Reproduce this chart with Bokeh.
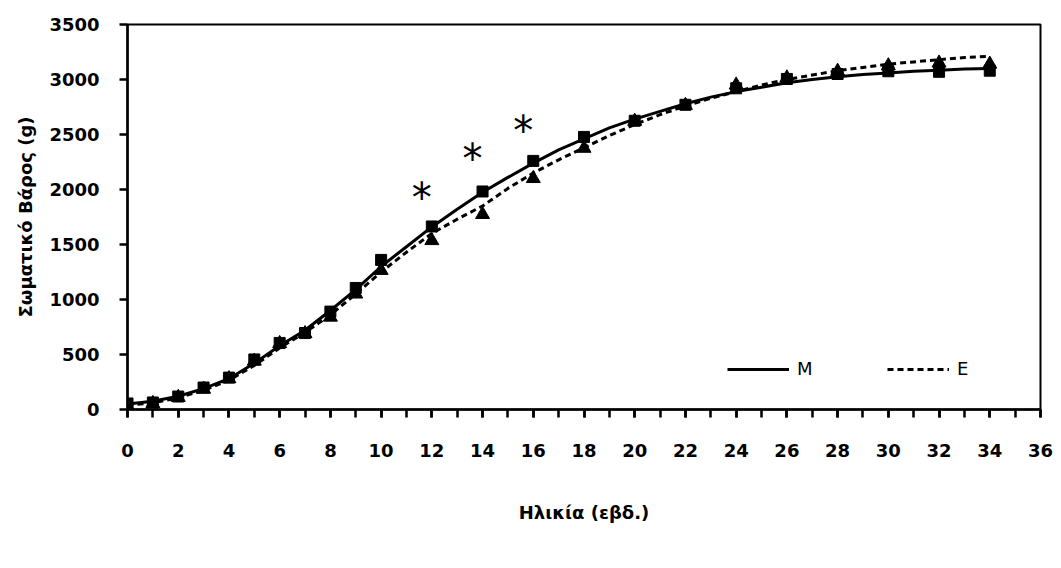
from bokeh.plotting import figure
from bokeh.models import FixedTicker, Range1d, Legend, LegendItem
from bokeh.core.properties import value
from bokeh.embed import file_html
from bokeh.resources import INLINE

# ---- data ----
x_points = [0, 1, 2, 3, 4, 5, 6, 7, 8, 9, 10, 12, 14, 16, 18, 20, 22, 24, 26, 28, 30, 32, 34]
m_points = [55, 64, 118, 200, 290, 455, 605, 695, 890, 1105, 1360, 1664, 1982, 2260, 2478,
            2625, 2770, 2920, 3005, 3050, 3075, 3070, 3080]
e_points = [30, 55, 110, 185, 280, 440, 600, 690, 840, 1050, 1265, 1536, 1773, 2100, 2375,
            2620, 2765, 2950, 3015, 3075, 3125, 3150, 3140]

x_curve = list(range(0, 35))
m_curve = [50, 75, 120, 190, 280, 420, 580, 720, 900, 1090, 1300, 1480, 1660, 1820, 1975,
           2110, 2240, 2360, 2460, 2560, 2640, 2710, 2780, 2840, 2890, 2930, 2970, 3000,
           3025, 3045, 3060, 3075, 3085, 3095, 3100]
e_curve = [40, 60, 105, 175, 265, 400, 560, 700, 860, 1050, 1250, 1430, 1600, 1730, 1850,
           2010, 2150, 2270, 2380, 2490, 2590, 2680, 2760, 2830, 2890, 2950, 3000, 3040,
           3080, 3110, 3140, 3160, 3180, 3200, 3210]

star_x = [11.6, 13.6, 15.6]
star_y = [1975, 2330, 2585]

x_ticks = list(range(0, 37, 2))
x_minor = list(range(0, 37, 1))
y_ticks = list(range(0, 3501, 500))

series_names = ["M", "E"]

FONT = "DejaVu Sans"

p = figure(width=1061, height=568, frame_width=913, frame_height=385,
           output_backend="svg", toolbar_location=None,
           x_range=Range1d(0, 36), y_range=Range1d(0, 3500),
           min_border_left=127, min_border_right=21, min_border_top=24, min_border_bottom=0)
p.xgrid.visible = False
p.ygrid.visible = False
p.outline_line_color = "black"
p.outline_line_width = 2
p.background_fill_color = "white"
p.border_fill_color = "white"

l_m = p.line(x_curve, m_curve, line_color="black", line_width=3)
l_e = p.line(x_curve, e_curve, line_color="black", line_width=3, line_dash="6 4")
p.scatter(x_points, e_points, marker="triangle", size=14, color="black")
p.scatter(x_points, m_points, marker="square", size=11, color="black")

p.text(star_x, star_y, text=["*"] * 3, text_font=value(FONT), text_font_size="40px",
       text_align="center", text_baseline="middle", y_offset=6, text_color="black")

xa = p.xaxis[0]
xa.ticker = FixedTicker(ticks=x_ticks, minor_ticks=x_minor)
xa.axis_line_width = 2.5
xa.major_tick_line_width = 2.5
xa.minor_tick_line_width = 2.5
xa.major_tick_in = 0
xa.major_tick_out = 8
xa.minor_tick_in = 0
xa.minor_tick_out = 8
xa.major_label_standoff = 26
xa.major_label_text_font = FONT
xa.major_label_text_font_style = "bold"
xa.major_label_text_font_size = "18px"
xa.major_label_text_color = "black"
xa.axis_label = "Ηλικία (εβδ.)"
xa.axis_label_text_font = FONT
xa.axis_label_text_font_style = "bold"
xa.axis_label_text_font_size = "18px"
xa.axis_label_text_color = "black"
xa.axis_label_standoff = 42

ya = p.yaxis[0]
ya.ticker = FixedTicker(ticks=y_ticks, minor_ticks=[])
ya.axis_line_width = 2.5
ya.major_tick_line_width = 2.5
ya.major_tick_in = 0
ya.major_tick_out = 8
ya.major_label_standoff = 20
ya.major_label_text_font = FONT
ya.major_label_text_font_style = "bold"
ya.major_label_text_font_size = "18px"
ya.major_label_text_color = "black"
ya.axis_label = "Σωματικό Βάρος (g)"
ya.axis_label_text_font = FONT
ya.axis_label_text_font_style = "bold"
ya.axis_label_text_font_size = "18px"
ya.axis_label_text_color = "black"
ya.axis_label_standoff = 10

legend = Legend(items=[LegendItem(label=series_names[0], renderers=[l_m]),
                       LegendItem(label=series_names[1], renderers=[l_e])],
                orientation="horizontal", location=(600, 30),
                label_text_font=FONT, label_text_font_size="18px",
                label_text_color="black",
                glyph_width=62, label_standoff=8, spacing=70, padding=4, margin=0,
                border_line_color=None, background_fill_alpha=0)
p.add_layout(legend, "center")

open("out.html", "w").write(file_html(p, INLINE))
